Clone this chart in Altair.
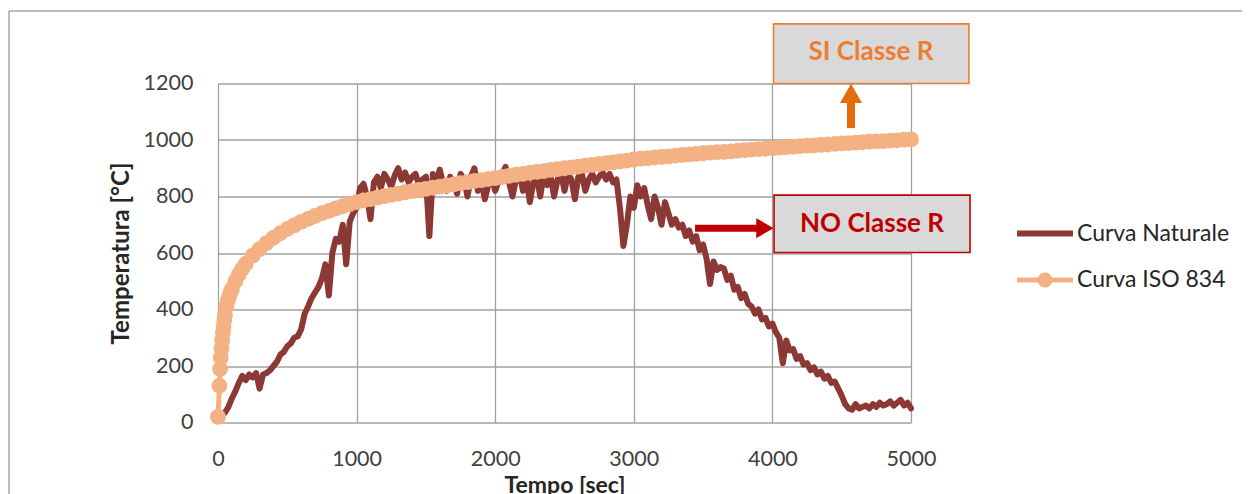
import altair as alt
import pandas as pd

# ---------------- data ----------------
X_TICKS = [0, 1000, 2000, 3000, 4000, 5000]
Y_TICKS = [0, 200, 400, 600, 800, 1000, 1200]

SERIES = ["Curva Naturale", "Curva ISO 834"]

# Curva ISO 834 (time in seconds, temperature in °C)
ISO_TIME = [0, 10, 15, 20, 25, 30, 35, 40, 45, 50, 60, 70, 80, 90, 100, 125, 150, 175, 200] + list(range(250, 5001, 50))
ISO_TEMP = [20, 130, 190, 230, 262, 290, 317, 340, 362, 380, 410, 430, 445, 460, 472, 500, 524, 545, 562,
            591, 614, 635, 654, 670, 685, 698, 710, 721, 731, 741, 749, 758, 766, 773, 780,
            786, 791, 796, 801, 806, 810, 815, 819, 823, 827, 831, 835, 839, 843, 847, 851, 855, 858, 862, 865,
            869, 873, 877, 880, 884, 887, 890, 894, 897, 900, 903, 906, 909, 912, 915, 918, 921, 924, 927, 931,
            934, 936, 938, 940, 942, 945, 947, 949, 951, 953, 955, 957, 958, 960, 962, 964, 966, 968, 969, 971,
            973, 975, 976, 978, 980, 981, 983, 984, 986, 988, 989, 991, 992, 994, 995, 996, 998, 999, 1001, 1002]

# Curva Naturale (noisy measured curve)
NAT_TIME = list(range(50, 5001, 25))
NAT_TEMP = [35, 55, 85, 110, 140, 165, 150, 170,
            160, 175, 120, 170, 175, 185, 200, 215,
            240, 250, 270, 280, 300, 305, 330, 385,
            410, 440, 460, 480, 510, 560, 450, 600,
            650, 640, 700, 560, 710, 740, 760, 830,
            845, 800, 720, 850, 870, 830, 880, 860,
            835, 875, 900, 860, 885, 850, 870, 880,
            840, 860, 870, 660, 880, 850, 895, 845,
            820, 870, 850, 810, 880, 860, 800, 870,
            900, 820, 860, 790, 840, 870, 820, 855,
            880, 905, 850, 800, 860, 890, 820, 870,
            780, 850, 870, 800, 880, 840, 870, 800,
            860, 885, 820, 880, 860, 790, 870, 880,
            820, 860, 880, 850, 870, 885, 860, 880,
            850, 860, 760, 625, 700, 800, 760, 840,
            800, 830, 770, 720, 800, 760, 700, 780,
            740, 700, 720, 690, 700, 660, 680, 640,
            660, 610, 630, 580, 490, 570, 540, 550,
            545, 505, 520, 470, 480, 440, 455, 420,
            410, 385, 400, 365, 370, 340, 350, 320,
            300, 210, 290, 255, 260, 225, 235, 205,
            210, 185, 195, 170, 180, 155, 165, 140,
            145, 120, 95, 65, 50, 45, 65, 50,
            55, 60, 50, 65, 55, 70, 60, 65,
            75, 60, 70, 80, 60, 70, 50]

# annotation boxes (data coordinates)
BOX_LABELS = ["SI Classe R", "NO Classe R"]
BOX_X = [4008, 4012]
BOX_X2 = [5418, 5426]
BOX_Y = [1200, 602]
BOX_Y2 = [1411, 805]
BOX_TX = [4711, 4719]
BOX_TY = [1310, 704]

# ---------------- styling ----------------
NAT_COLOR = "#8C3834"
ISO_COLOR = "#F4B183"
SI_COLOR = "#ED7D31"
SI_ARROW = "#E46C0A"
NO_COLOR = "#C00000"
GRID = "#A0A0A0"
FONT = "Lato"

n = min(len(NAT_TIME), len(NAT_TEMP))
nat_df = pd.DataFrame({"t": NAT_TIME[:n], "T": NAT_TEMP[:n], "serie": SERIES[0]})
m = min(len(ISO_TIME), len(ISO_TEMP))
iso_df = pd.DataFrame({"t": ISO_TIME[:m], "T": ISO_TEMP[:m], "serie": SERIES[1]})

xs = alt.Scale(domain=[0, 5000], nice=False, zero=False)
ys = alt.Scale(domain=[0, 1200], nice=False, zero=False)

x_axis = alt.Axis(values=X_TICKS, format="d", title="Tempo [sec]", grid=True,
                  gridColor=GRID, gridWidth=1.3, domain=False, ticks=False, tickSize=0,
                  labelPadding=26, labelFont=FONT, labelFontSize=21.5, labelColor="#404040",
                  labelFlush=False, labelOverlap=False,
                  titleFont=FONT, titleFontSize=23, titleFontWeight="bold",
                  titleColor="#262626", titlePadding=4)
y_axis = alt.Axis(values=Y_TICKS, format="d", title="Temperatura [°C]", grid=True,
                  gridColor=GRID, gridWidth=1.3, domain=False, ticks=False, tickSize=0,
                  labelPadding=25, labelFont=FONT, labelFontSize=21.5, labelColor="#404040",
                  labelOverlap=False,
                  titleFont=FONT, titleFontSize=24, titleFontWeight="bold",
                  titleColor="#262626", titlePadding=10)


def X(field):
    return alt.X(field, scale=xs, axis=x_axis)


def Y(field):
    return alt.Y(field, scale=ys, axis=y_axis)


nat_line = alt.Chart(nat_df).mark_line(
    color=NAT_COLOR, strokeWidth=6, strokeJoin="round", strokeCap="round"
).encode(x=X("t:Q"), y=Y("T:Q"))

iso_line = alt.Chart(iso_df).mark_line(
    color=ISO_COLOR, strokeWidth=5, strokeJoin="round"
).encode(x=X("t:Q"), y=Y("T:Q"))
iso_pts = alt.Chart(iso_df).mark_circle(
    color=ISO_COLOR, size=250, opacity=1
).encode(x=X("t:Q"), y=Y("T:Q"))

box_df = pd.DataFrame({"label": BOX_LABELS, "x": BOX_X, "x2": BOX_X2, "y": BOX_Y,
                       "y2": BOX_Y2, "tx": BOX_TX, "ty": BOX_TY})


def box_layer(i, color):
    d = box_df.iloc[[i]]
    rect = alt.Chart(d).mark_rect(fill="#D9D9D9", stroke=color, strokeWidth=1.6).encode(
        x=X("x:Q"), x2="x2:Q", y=Y("y:Q"), y2="y2:Q",
    )
    txt = alt.Chart(d).mark_text(font=FONT, fontSize=26, fontWeight="bold", color=color,
                                 align="center", baseline="middle").encode(
        x=X("tx:Q"), y=Y("ty:Q"), text="label:N",
    )
    return rect + txt


# arrows (data coordinates)
up_df = pd.DataFrame({"x": [4567], "y": [1042], "y2": [1150], "ty": [1165]})
up_shaft = alt.Chart(up_df).mark_rule(color=SI_ARROW, strokeWidth=8).encode(
    x=X("x:Q"), y=Y("y:Q"), y2="y2:Q")
up_head = alt.Chart(up_df).mark_point(shape="triangle-up", size=484, filled=True,
                                      opacity=1, color=SI_ARROW, strokeWidth=0).encode(
    x=X("x:Q"), y=Y("ty:Q"))

rt_df = pd.DataFrame({"x": [3442], "x2": [3900], "y": [688], "tx": [3946]})
rt_shaft = alt.Chart(rt_df).mark_rule(color=NO_COLOR, strokeWidth=7).encode(
    x=X("x:Q"), x2="x2:Q", y=Y("y:Q"))
rt_head = alt.Chart(rt_df).mark_point(shape="triangle-right", size=400, filled=True,
                                      opacity=1, color=NO_COLOR, strokeWidth=0).encode(
    x=X("tx:Q"), y=Y("y:Q"))

# legend (drawn by hand, pixel positions relative to plot area)
leg1 = pd.DataFrame({"serie": [SERIES[0]]})
leg2 = pd.DataFrame({"serie": [SERIES[1]]})
LEG_X0, LEG_X1, LEG_TX = 799, 855, 859
LEG_Y1, LEG_Y2 = 150, 196.5
leg_nat = alt.Chart(leg1).mark_rule(color=NAT_COLOR, strokeWidth=6).encode(
    x=alt.value(LEG_X0), x2=alt.value(LEG_X1), y=alt.value(LEG_Y1))
leg_iso = alt.Chart(leg2).mark_rule(color=ISO_COLOR, strokeWidth=5).encode(
    x=alt.value(LEG_X0), x2=alt.value(LEG_X1), y=alt.value(LEG_Y2))
leg_iso_pt = alt.Chart(leg2).mark_circle(color=ISO_COLOR, size=225, opacity=1).encode(
    x=alt.value((LEG_X0 + LEG_X1) / 2), y=alt.value(LEG_Y2))
leg_t1 = alt.Chart(leg1).mark_text(font=FONT, fontSize=23, color="#262626", align="left",
                                   baseline="middle").encode(
    x=alt.value(LEG_TX), y=alt.value(LEG_Y1), text="serie:N")
leg_t2 = alt.Chart(leg2).mark_text(font=FONT, fontSize=23, color="#262626", align="left",
                                   baseline="middle").encode(
    x=alt.value(LEG_TX), y=alt.value(LEG_Y2), text="serie:N")

# outer chart frame
frame_df = pd.DataFrame({"k": [0]})
frame_top = alt.Chart(frame_df).mark_rule(color="#A6A6A6", strokeWidth=1.5).encode(
    x=alt.value(-209), x2=alt.value(1040), y=alt.value(-72.5))
frame_left = alt.Chart(frame_df).mark_rule(color="#A6A6A6", strokeWidth=1.5).encode(
    x=alt.value(-209), y=alt.value(-72.5), y2=alt.value(420))

chart = alt.layer(
    nat_line, iso_line, iso_pts,
    box_layer(0, SI_COLOR), box_layer(1, NO_COLOR),
    up_shaft, up_head, rt_shaft, rt_head,
    leg_nat, leg_iso, leg_iso_pt, leg_t1, leg_t2,
    frame_top, frame_left,
).properties(
    width=693, height=339,
    padding={"left": 210, "top": 75.5, "right": 331, "bottom": 72},
    autosize=alt.AutoSizeParams(type="none"),
    background="white",
).configure_view(stroke=None)

chart.save("out.html", embed_options={"renderer": "svg", "actions": False})
